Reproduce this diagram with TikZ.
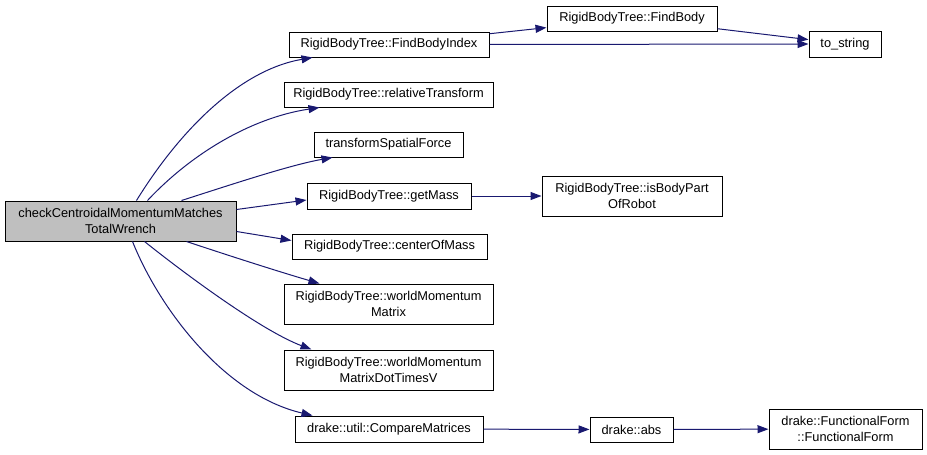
\documentclass[tikz,border=0pt]{standalone}
\usepackage{fontspec}
\setmainfont{Liberation Sans}
\usetikzlibrary{arrows.meta,calc}
\definecolor{edgeblue}{HTML}{191970}
\definecolor{rootfill}{HTML}{BFBFBF}
\begin{document}
\begin{tikzpicture}[x=1pt,y=-1pt,
  box/.style={draw=black, line width=1pt, fill=white, inner sep=0pt,
    align=center, font=\fontsize{12.8}{15.2}\selectfont},
  root/.style={box, fill=rootfill},
  call/.style={draw=edgeblue, line width=1pt,
    -{Triangle[length=11pt,width=8pt]}},
]
\useasboundingbox (0,0) rectangle (927,455);

% caller
\node[root, minimum width=231pt, minimum height=40pt] (main) at (120.5,221)
  {checkCentroidalMomentumMatches\\TotalWrench};

% direct callees
\node[box, minimum width=200pt, minimum height=25pt] (fbi) at (389,44.5) {RigidBodyTree::FindBodyIndex};
\node[box, minimum width=209pt, minimum height=25pt] (rt)  at (388.5,94.5) {RigidBodyTree::relativeTransform};
\node[box, minimum width=149pt, minimum height=25pt] (tsf) at (388.5,144.5) {transformSpatialForce};
\node[box, minimum width=164pt, minimum height=26pt] (gm)  at (389,196) {RigidBodyTree::getMass};
\node[box, minimum width=195pt, minimum height=25pt] (com) at (389.5,246.5) {RigidBodyTree::centerOfMass};
\node[box, minimum width=209pt, minimum height=40pt] (wmm) at (388.5,304) {RigidBodyTree::worldMomentum\\Matrix};
\node[box, minimum width=209pt, minimum height=40pt] (wmd) at (388.5,370) {RigidBodyTree::worldMomentum\\MatrixDotTimesV};
\node[box, minimum width=188pt, minimum height=26pt] (cmp) at (389,429) {drake::util::CompareMatrices};

% second level
\node[box, minimum width=170pt, minimum height=25pt] (fs)  at (632,18.5) {RigidBodyTree::FindBody};
\node[box, minimum width=72pt,  minimum height=26pt] (ts)  at (845,44) {to\_string};
\node[box, minimum width=180pt, minimum height=40pt] (ibp) at (632,196) {RigidBodyTree::isBodyPart\\OfRobot};
\node[box, minimum width=83pt,  minimum height=25pt] (abs) at (631.5,429.5) {drake::abs};
\node[box, minimum width=153pt, minimum height=40pt] (ff)  at (845.5,429) {drake::FunctionalForm\\::FunctionalForm};

% calls from the root
\draw[call] ($(main.north west)+(132,0)$) .. controls (180,130) and (240,70) .. ($(fbi.south west)+(24,0)$);
\draw[call] ($(main.north west)+(143,0)$) .. controls (190,155) and (250,118) .. ($(rt.south west)+(36,0)$);
\draw[call] ($(main.north west)+(177,0)$) .. controls (230,185) and (290,165) .. ($(tsf.south west)+(19,0)$);
\draw[call] ($(main.north east)+(0,9)$) -- ($(gm.west)+(0,4)$);
\draw[call] ($(main.north east)+(0,31)$) -- ($(com.west)+(0,-6)$);
\draw[call] ($(main.south west)+(182,0)$) .. controls (230,256) and (280,272) .. ($(wmm.north west)+(36,0)$);
\draw[call] ($(main.south west)+(140,0)$) .. controls (180,270) and (260,330) .. ($(wmd.north west)+(28,0)$);
\draw[call] ($(main.south west)+(128,0)$) .. controls (160,310) and (225,395) .. ($(cmp.north west)+(18,0)$);

% deeper calls
\draw[call] (fbi) -- (fs);
\draw[call] (fbi.east) -- (ts.west);
\draw[call] (fs) -- (ts);
\draw[call] (gm) -- (ibp);
\draw[call] (cmp) -- (abs);
\draw[call] (abs) -- (ff);
\end{tikzpicture}
\end{document}
